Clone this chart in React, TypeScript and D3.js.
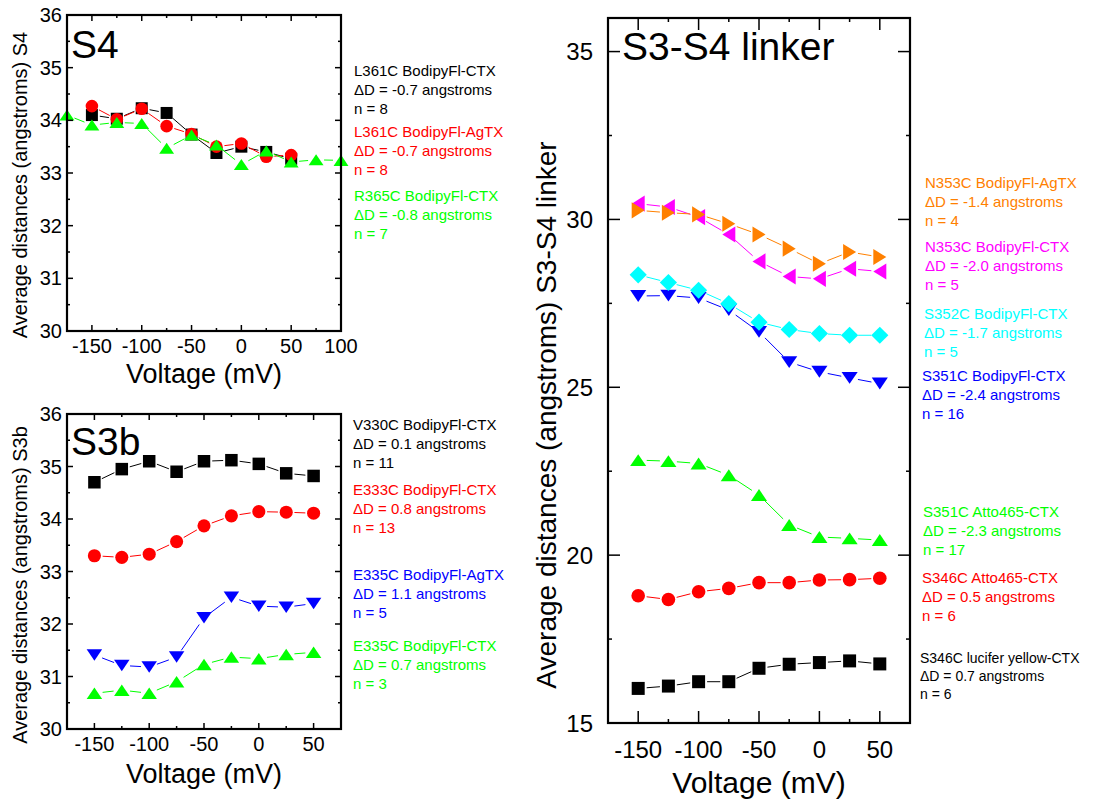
import React from "react";
import * as d3 from "d3";

// ---------------- DATA ----------------
const voltages = [-150, -125, -100, -75, -50, -25, 0, 25, 50];
const voltagesWide = [-175, -150, -125, -100, -75, -50, -25, 0, 25, 50, 75, 100];

// S4 panel
const s4L361C_CTX = [34.1, 34.03, 34.23, 34.14, 33.73, 33.38, 33.5, 33.4, 33.27];
const s4L361C_AgTX = [34.27, 34.02, 34.22, 33.89, 33.74, 33.5, 33.56, 33.31, 33.34];
const s4R365C_CTX = [34.1, 33.91, 33.96, 33.94, 33.47, 33.72, 33.53, 33.16, 33.42, 33.21, 33.25, 33.24];

// S3b panel
const s3bV330C_CTX = [34.7, 34.95, 35.1, 34.9, 35.1, 35.12, 35.05, 34.87, 34.82];
const s3bE333C_CTX = [33.3, 33.27, 33.33, 33.57, 33.87, 34.06, 34.14, 34.13, 34.11];
const s3bE335C_AgTX = [31.41, 31.21, 31.18, 31.37, 32.12, 32.51, 32.34, 32.32, 32.39];
const s3bE335C_CTX = [30.68, 30.74, 30.68, 30.9, 31.23, 31.37, 31.34, 31.42, 31.46];

// S3-S4 linker panel
const lkS346C_LY = [16.03, 16.1, 16.23, 16.23, 16.63, 16.75, 16.8, 16.85, 16.76];
const lkS346C_Atto = [18.79, 18.68, 18.91, 19.01, 19.18, 19.18, 19.26, 19.27, 19.31];
const lkS351C_Atto = [22.83, 22.8, 22.73, 22.38, 21.79, 20.9, 20.54, 20.5, 20.45];
const lkS351C_CTX = [27.72, 27.73, 27.66, 27.3, 26.65, 25.75, 25.46, 25.28, 25.11];
const lkS352C_CTX = [28.35, 28.12, 27.89, 27.49, 26.94, 26.72, 26.6, 26.55, 26.55];
const lkN353C_CTX = [30.47, 30.37, 30.07, 29.55, 28.75, 28.3, 28.23, 28.53, 28.45];
const lkN353C_AgTX = [30.27, 30.2, 30.15, 29.87, 29.55, 29.13, 28.68, 29.03, 28.88];

// tick values
const s4XTicks = [-150, -100, -50, 0, 50, 100];
const s3bXTicks = [-150, -100, -50, 0, 50];
const leftYTicks = [30, 31, 32, 33, 34, 35, 36];
const linkerYTicks = [15, 20, 25, 30, 35];

// legend texts
const s4Legend = [
  ["L361C BodipyFl-CTX", "ΔD = -0.7 angstroms", "n = 8"],
  ["L361C BodipyFl-AgTX", "ΔD = -0.7 angstroms", "n = 8"],
  ["R365C BodipyFl-CTX", "ΔD = -0.8 angstroms", "n = 7"],
];
const s3bLegend = [
  ["V330C BodipyFl-CTX", "ΔD = 0.1 angstroms", "n = 11"],
  ["E333C BodipyFl-CTX", "ΔD = 0.8 angstroms", "n = 13"],
  ["E335C BodipyFl-AgTX", "ΔD = 1.1 angstroms", "n = 5"],
  ["E335C BodipyFl-CTX", "ΔD = 0.7 angstroms", "n = 3"],
];
const linkerLegend = [
  ["N353C BodipyFl-AgTX", "ΔD = -1.4 angstroms", "n = 4"],
  ["N353C BodipyFl-CTX", "ΔD = -2.0 angstroms", "n = 5"],
  ["S352C BodipyFl-CTX", "ΔD = -1.7 angstroms", "n = 5"],
  ["S351C BodipyFl-CTX", "ΔD = -2.4 angstroms", "n = 16"],
  ["S351C Atto465-CTX", "ΔD = -2.3 angstroms", "n = 17"],
  ["S346C Atto465-CTX", "ΔD = 0.5 angstroms", "n = 6"],
  ["S346C lucifer yellow-CTX", "ΔD = 0.7 angstroms", "n = 6"],
];

// ---------------- STYLE ----------------
const FONT = "'Liberation Sans', Arial, Helvetica, sans-serif";
const BLACK = "#000000";
const RED = "#ff0000";
const GREEN = "#00ff00";
const BLUE = "#0000ff";
const CYAN = "#00ffff";
const MAGENTA = "#ff00ff";
const ORANGE = "#ff8000";

type Shape = "square" | "circle" | "up" | "down" | "left" | "right" | "diamond";

interface Series {
  x: number[];
  y: number[];
  color: string;
  shape: Shape;
}

function markerPath(shape: Shape, s: number): string {
  const h = s / 2;
  switch (shape) {
    case "square":
      return `M${-h},${-h}H${h}V${h}H${-h}Z`;
    case "up": {
      const w = s * 0.62, t = s * 0.46;
      return `M${-w},${t}L${w},${t}L0,${-t}Z`;
    }
    case "down": {
      const w = s * 0.62, t = s * 0.46;
      return `M${-w},${-t}L${w},${-t}L0,${t}Z`;
    }
    case "right": {
      const w = s * 0.62, t = s * 0.5;
      return `M${-t},${-w}L${t},0L${-t},${w}Z`;
    }
    case "left": {
      const w = s * 0.62, t = s * 0.5;
      return `M${t},${-w}L${-t},0L${t},${w}Z`;
    }
    case "diamond": {
      const d = s * 0.66;
      return `M0,${-d}L${d},0L0,${d}L${-d},0Z`;
    }
    default:
      return "";
  }
}

interface PanelProps {
  left: number;
  top: number;
  width: number;
  height: number;
  xDomain: [number, number];
  yDomain: [number, number];
  xTicks: number[];
  xMinorStep: number;
  yTicks: number[];
  yMinorStep: number;
  majorLen: number;
  minorLen: number;
  tickFont: number;
  yLabelGap: number;
  xLabelOffset: number;
  series: Series[];
  markerSize: number;
  title: string;
  titleX: number;
  titleY: number;
  titleSize: number;
  yLabel: string;
  yLabelX: number;
  yLabelCY: number;
  yLabelSize: number;
  xLabel: string;
  xLabelY: number;
  xLabelSize: number;
}

function Panel(p: PanelProps) {
  const x = d3.scaleLinear().domain(p.xDomain).range([p.left, p.left + p.width]);
  const y = d3.scaleLinear().domain(p.yDomain).range([p.top + p.height, p.top]);
  const bottom = p.top + p.height;
  const right = p.left + p.width;

  const xMinor: number[] = [];
  for (let v = p.xDomain[0]; v <= p.xDomain[1] + 1e-9; v += p.xMinorStep) {
    if (!p.xTicks.some((t) => Math.abs(t - v) < 1e-9)) xMinor.push(v);
  }
  const yMinor: number[] = [];
  for (let v = p.yDomain[0]; v <= p.yDomain[1] + 1e-9; v += p.yMinorStep) {
    if (!p.yTicks.some((t) => Math.abs(t - v) < 1e-9)) yMinor.push(v);
  }

  const tickLines: JSX.Element[] = [];
  const addX = (v: number, len: number, key: string) => {
    const xx = x(v);
    if (xx <= p.left + 0.5 || xx >= right - 0.5) return;
    tickLines.push(<line key={key + "b"} x1={xx} x2={xx} y1={bottom} y2={bottom - len} />);
    tickLines.push(<line key={key + "t"} x1={xx} x2={xx} y1={p.top} y2={p.top + len} />);
  };
  const addY = (v: number, len: number, key: string) => {
    const yy = y(v);
    if (yy >= bottom - 0.5 || yy <= p.top + 0.5) return;
    tickLines.push(<line key={key + "l"} x1={p.left} x2={p.left + len} y1={yy} y2={yy} />);
    tickLines.push(<line key={key + "r"} x1={right} x2={right - len} y1={yy} y2={yy} />);
  };
  p.xTicks.forEach((v, i) => addX(v, p.majorLen, "xm" + i));
  xMinor.forEach((v, i) => addX(v, p.minorLen, "xn" + i));
  p.yTicks.forEach((v, i) => addY(v, p.majorLen, "ym" + i));
  yMinor.forEach((v, i) => addY(v, p.minorLen, "yn" + i));

  const gap = p.markerSize / 2 + 2;

  return (
    <g>
      {p.series.map((s, si) => {
        const pts = s.x.map((xv, i) => [x(xv), y(s.y[i])] as [number, number]);
        const segs: JSX.Element[] = [];
        for (let i = 0; i < pts.length - 1; i++) {
          const [x1, y1] = pts[i];
          const [x2, y2] = pts[i + 1];
          const dx = x2 - x1, dy = y2 - y1;
          const len = Math.hypot(dx, dy);
          if (len <= 2 * gap) continue;
          const ux = dx / len, uy = dy / len;
          segs.push(
            <line
              key={i}
              x1={x1 + ux * gap}
              y1={y1 + uy * gap}
              x2={x2 - ux * gap}
              y2={y2 - uy * gap}
              stroke={s.color}
              strokeWidth={1}
            />
          );
        }
        return (
          <g key={si}>
            {segs}
            {pts.map(([px, py], i) =>
              s.shape === "circle" ? (
                <circle key={"m" + i} cx={px} cy={py} r={p.markerSize / 2 + 0.3} fill={s.color} />
              ) : (
                <path
                  key={"m" + i}
                  d={markerPath(s.shape, p.markerSize)}
                  transform={`translate(${px},${py})`}
                  fill={s.color}
                />
              )
            )}
          </g>
        );
      })}
      <g stroke="#000" strokeWidth={1.5}>{tickLines}</g>
      <rect
        x={p.left}
        y={p.top}
        width={p.width}
        height={p.height}
        fill="none"
        stroke="#000"
        strokeWidth={2.2}
      />
      <g fontFamily={FONT} fontSize={p.tickFont} fill="#000">
        {p.xTicks.map((v) => (
          <text key={"xl" + v} x={x(v)} y={bottom + p.xLabelOffset} textAnchor="middle">
            {String(v)}
          </text>
        ))}
        {p.yTicks.map((v) => (
          <text
            key={"yl" + v}
            x={p.left - p.yLabelGap}
            y={y(v)}
            textAnchor="end"
            dominantBaseline="central"
          >
            {String(v)}
          </text>
        ))}
      </g>
      <text x={p.titleX} y={p.titleY} fontFamily={FONT} fontSize={p.titleSize}>
        {p.title}
      </text>
      <text
        transform={`translate(${p.yLabelX},${p.yLabelCY}) rotate(-90)`}
        textAnchor="middle"
        fontFamily={FONT}
        fontSize={p.yLabelSize}
      >
        {p.yLabel}
      </text>
      <text
        x={p.left + p.width / 2}
        y={p.xLabelY}
        textAnchor="middle"
        fontFamily={FONT}
        fontSize={p.xLabelSize}
      >
        {p.xLabel}
      </text>
    </g>
  );
}

function Legend({
  x,
  entries,
  colors,
  baselines,
  fontSize,
  lineGap,
}: {
  x: number[];
  entries: string[][];
  colors: string[];
  baselines: number[];
  fontSize: number[];
  lineGap: number[];
}) {
  return (
    <g fontFamily={FONT}>
      {entries.map((lines, gi) => (
        <text key={gi} fill={colors[gi]} fontSize={fontSize[gi]}>
          {lines.map((t, li) => (
            <tspan key={li} x={x[gi]} y={baselines[gi] + li * lineGap[gi]}>
              {t}
            </tspan>
          ))}
        </text>
      ))}
    </g>
  );
}

export default function App() {
  const s4Series: Series[] = [
    { x: voltages, y: s4L361C_CTX, color: BLACK, shape: "square" },
    { x: voltages, y: s4L361C_AgTX, color: RED, shape: "circle" },
    { x: voltagesWide, y: s4R365C_CTX, color: GREEN, shape: "up" },
  ];
  const s3bSeries: Series[] = [
    { x: voltages, y: s3bV330C_CTX, color: BLACK, shape: "square" },
    { x: voltages, y: s3bE333C_CTX, color: RED, shape: "circle" },
    { x: voltages, y: s3bE335C_AgTX, color: BLUE, shape: "down" },
    { x: voltages, y: s3bE335C_CTX, color: GREEN, shape: "up" },
  ];
  const linkerSeries: Series[] = [
    { x: voltages, y: lkS346C_LY, color: BLACK, shape: "square" },
    { x: voltages, y: lkS346C_Atto, color: RED, shape: "circle" },
    { x: voltages, y: lkS351C_Atto, color: GREEN, shape: "up" },
    { x: voltages, y: lkS351C_CTX, color: BLUE, shape: "down" },
    { x: voltages, y: lkS352C_CTX, color: CYAN, shape: "diamond" },
    { x: voltages, y: lkN353C_CTX, color: MAGENTA, shape: "left" },
    { x: voltages, y: lkN353C_AgTX, color: ORANGE, shape: "right" },
  ];

  return (
    <svg
      width={1100}
      height={803}
      style={{ position: "absolute", left: 0, top: 0, background: "#fff" }}
    >
      <rect x={0} y={0} width={1100} height={803} fill="#fff" />
      <Panel
        left={67}
        top={15}
        width={274}
        height={316}
        xDomain={[-175, 100]}
        yDomain={[30, 36]}
        xTicks={s4XTicks}
        xMinorStep={25}
        yTicks={leftYTicks}
        yMinorStep={0.5}
        majorLen={6}
        minorLen={3}
        tickFont={20}
        yLabelGap={5}
        xLabelOffset={22}
        series={s4Series}
        markerSize={12}
        title="S4"
        titleX={71}
        titleY={58}
        titleSize={39}
        yLabel="Average distances (angstroms) S4"
        yLabelX={27}
        yLabelCY={185}
        yLabelSize={20}
        xLabel="Voltage (mV)"
        xLabelY={383}
        xLabelSize={27}
      />
      <Panel
        left={67}
        top={414}
        width={274}
        height={315}
        xDomain={[-175, 75]}
        yDomain={[30, 36]}
        xTicks={s3bXTicks}
        xMinorStep={25}
        yTicks={leftYTicks}
        yMinorStep={0.5}
        majorLen={6}
        minorLen={3}
        tickFont={20}
        yLabelGap={5}
        xLabelOffset={22}
        series={s3bSeries}
        markerSize={12.5}
        title="S3b"
        titleX={71}
        titleY={455}
        titleSize={39}
        yLabel="Average distances (angstroms) S3b"
        yLabelX={27}
        yLabelCY={585}
        yLabelSize={20}
        xLabel="Voltage (mV)"
        xLabelY={783}
        xLabelSize={27}
      />
      <Panel
        left={608}
        top={18}
        width={302}
        height={705}
        xDomain={[-175, 75]}
        yDomain={[15, 36]}
        xTicks={s3bXTicks}
        xMinorStep={25}
        yTicks={linkerYTicks}
        yMinorStep={2.5}
        majorLen={12}
        minorLen={4}
        tickFont={24}
        yLabelGap={15}
        xLabelOffset={35}
        series={linkerSeries}
        markerSize={13}
        title="S3-S4 linker"
        titleX={622}
        titleY={60}
        titleSize={39}
        yLabel="Average distances (angstroms) S3-S4 linker"
        yLabelX={556}
        yLabelCY={415}
        yLabelSize={28}
        xLabel="Voltage (mV)"
        xLabelY={793}
        xLabelSize={30}
      />
      <Legend
        x={[354, 354, 354]}
        entries={s4Legend}
        colors={[BLACK, RED, GREEN]}
        baselines={[76, 137, 201]}
        fontSize={[15, 15, 15]}
        lineGap={[19, 19, 19]}
      />
      <Legend
        x={[353, 353, 353, 353]}
        entries={s3bLegend}
        colors={[BLACK, RED, BLUE, GREEN]}
        baselines={[430, 495, 580, 651]}
        fontSize={[15, 15, 15, 15]}
        lineGap={[19, 19, 19, 19]}
      />
      <Legend
        x={[925, 925, 924, 922, 923, 922, 920]}
        entries={linkerLegend}
        colors={[ORANGE, MAGENTA, CYAN, BLUE, GREEN, RED, BLACK]}
        baselines={[188, 252, 319, 381, 517, 583, 663]}
        fontSize={[15, 15, 15, 15, 15, 15, 14]}
        lineGap={[19, 19, 19, 19, 19, 19, 18]}
      />
    </svg>
  );
}
